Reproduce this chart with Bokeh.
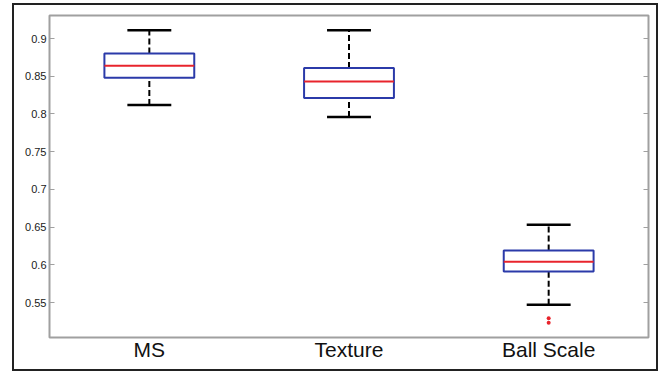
from bokeh.plotting import figure
from bokeh.models import (Range1d, LinearAxis, FixedTicker,
                          ColumnDataSource, FactorRange, CustomJSTickFormatter)
from bokeh.transform import dodge
from bokeh.embed import file_html
from bokeh.resources import INLINE

# ---- data ----
categories = ["MS", "Texture", "Ball Scale"]
lower_whisker = [0.812, 0.796, 0.547]
q1 = [0.848, 0.821, 0.591]
median = [0.864, 0.843, 0.604]
q3 = [0.880, 0.861, 0.619]
upper_whisker = [0.911, 0.911, 0.653]
outlier_cat = ["Ball Scale", "Ball Scale"]
outlier_val = [0.529, 0.523]
y_ticks = [0.55, 0.6, 0.65, 0.7, 0.75, 0.8, 0.85, 0.9]

src = ColumnDataSource(dict(cat=categories, lo=lower_whisker, q1=q1,
                            med=median, q3=q3, hi=upper_whisker))

FONT = "Liberation Sans"
GRAY = "#a0a0a0"
EDGE = "#222222"

# outer figure frame painted as the page element's background
frame_bg = ", ".join([
    f"linear-gradient({EDGE},{EDGE}) 12px 3px / 2px 368px no-repeat",
    f"linear-gradient({EDGE},{EDGE}) 656px 3px / 2px 368px no-repeat",
    f"linear-gradient({EDGE},{EDGE}) 12px 3px / 646px 2px no-repeat",
    f"linear-gradient({EDGE},{EDGE}) 12px 369px / 646px 2px no-repeat",
    "white",
])

p = figure(x_range=FactorRange(*categories, range_padding=0),
           y_range=Range1d(0.5036, 0.9305),
           width=661, height=374, output_backend="svg",
           toolbar_location=None,
           min_border_left=49, min_border_right=13,
           min_border_top=15, min_border_bottom=37,
           styles={"background": frame_bg})

p.xgrid.grid_line_color = None
p.ygrid.grid_line_color = None
p.outline_line_color = GRAY
p.outline_line_width = 2
p.background_fill_color = "white"
p.border_fill_color = None

# left axis
yax = p.yaxis[0]
yax.ticker = FixedTicker(ticks=y_ticks)
yax.axis_line_color = None
yax.major_tick_in = 5
yax.major_tick_out = 0
yax.minor_tick_line_color = None
yax.major_tick_line_color = GRAY
yax.major_tick_line_width = 1
yax.major_label_standoff = 3
yax.major_label_text_font = FONT
yax.major_label_text_font_size = "11px"
yax.major_label_text_color = "#1a1a1a"

# right axis (ticks only)
rax = LinearAxis(ticker=FixedTicker(ticks=y_ticks),
                 formatter=CustomJSTickFormatter(code="return ''"))
rax.axis_line_color = None
rax.major_tick_in = 5
rax.major_tick_out = 0
rax.minor_tick_line_color = None
rax.major_tick_line_color = GRAY
rax.major_label_standoff = 0
p.add_layout(rax, "right")

# bottom axis (labels only)
xax = p.xaxis[0]
xax.axis_line_color = None
xax.major_tick_line_color = None
xax.major_tick_in = 0
xax.major_tick_out = 0
xax.major_label_standoff = 0
xax.major_label_text_font = FONT
xax.major_label_text_font_size = "21px"
xax.major_label_text_color = "#111111"

# whiskers (dashed)
p.segment(x0="cat", y0="q3", x1="cat", y1="hi", source=src,
          line_color="black", line_width=2, line_dash="6 3")
p.segment(x0="cat", y0="lo", x1="cat", y1="q1", source=src,
          line_color="black", line_width=2, line_dash="6 3")
# caps
for col in ("hi", "lo"):
    p.segment(x0=dodge("cat", -0.11, range=p.x_range), y0=col,
              x1=dodge("cat", 0.11, range=p.x_range), y1=col, source=src,
              line_color="black", line_width=2.5)
# boxes
p.vbar(x="cat", top="q3", bottom="q1", width=0.45, source=src,
       fill_color=None, line_color="#2b3aa9", line_width=2)
# medians
p.segment(x0=dodge("cat", -0.225, range=p.x_range), y0="med",
          x1=dodge("cat", 0.225, range=p.x_range), y1="med", source=src,
          line_color="#e8242c", line_width=2)
# outliers
p.scatter(x=outlier_cat, y=outlier_val, size=4, marker="circle",
          fill_color="#e8242c", line_color=None)

open("out.html", "w").write(file_html(p, INLINE))
